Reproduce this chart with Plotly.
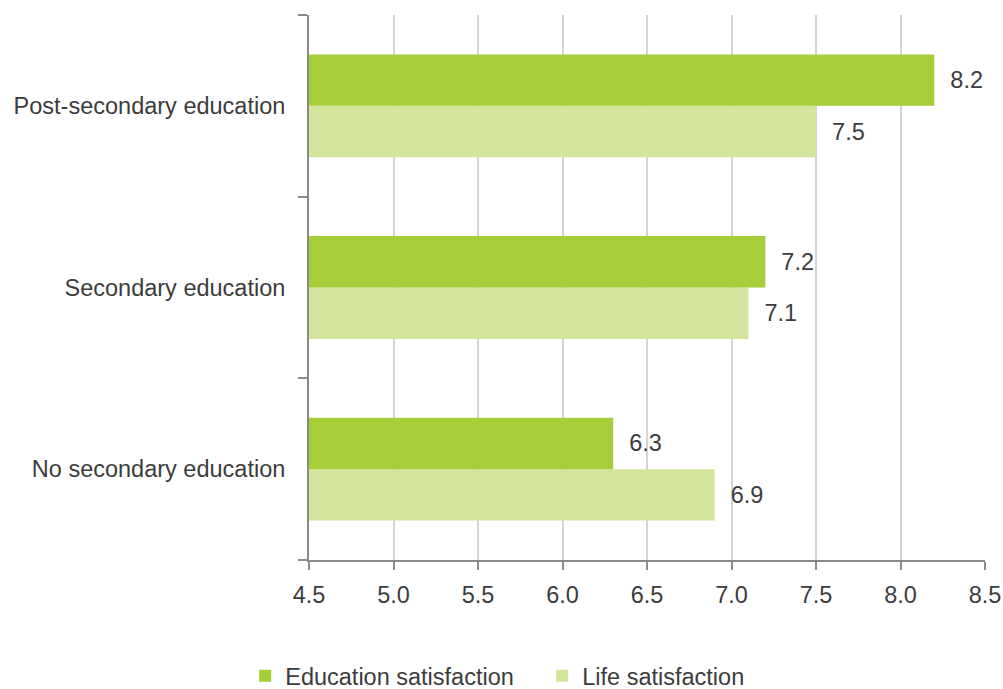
import plotly.graph_objects as go

# Education levels (bottom to top on the chart)
categories = ["No secondary education", "Secondary education", "Post-secondary education"]
education_satisfaction = [6.3, 7.2, 8.2]
life_satisfaction = [6.9, 7.1, 7.5]
x_ticks = [4.5, 5.0, 5.5, 6.0, 6.5, 7.0, 7.5, 8.0, 8.5]

DARK_GREEN = "#a6ce39"
LIGHT_GREEN = "#d3e49d"
TEXT = "#3c3c3c"
FONT = "Liberation Sans, Arial, sans-serif"
SIZE = 23.5

fig = go.Figure()

# Life satisfaction first so it sits below education satisfaction in each group
fig.add_trace(go.Bar(
    y=categories, x=life_satisfaction, orientation="h",
    name="Life satisfaction", marker=dict(color=LIGHT_GREEN, line=dict(width=0)),
    texttemplate="\u00a0\u00a0%{x:.1f}", textposition="outside", cliponaxis=False,
    textfont=dict(size=SIZE, color=TEXT, family=FONT),
))
fig.add_trace(go.Bar(
    y=categories, x=education_satisfaction, orientation="h",
    name="Education satisfaction", marker=dict(color=DARK_GREEN, line=dict(width=0)),
    texttemplate="\u00a0\u00a0%{x:.1f}", textposition="outside", cliponaxis=False,
    textfont=dict(size=SIZE, color=TEXT, family=FONT),
))

fig.update_layout(
    width=1003, height=689,
    margin=dict(l=309, r=18, t=15, b=129, autoexpand=False),
    paper_bgcolor="white", plot_bgcolor="white",
    barmode="group", bargap=0.434, bargroupgap=0,
    font=dict(family=FONT, size=SIZE, color=TEXT),
    showlegend=True,
    legend=dict(
        orientation="h", traceorder="reversed",
        x=0.345, xanchor="center",
        y=-0.213, yanchor="middle",
        font=dict(size=SIZE, color=TEXT, family=FONT),
        itemwidth=30, entrywidth=252, entrywidthmode="pixels",
        tracegroupgap=0,
    ),
)

fig.update_xaxes(
    range=[4.5, 8.5], autorange=False, tickvals=x_ticks,
    ticktext=[f"{v:.1f}" for v in x_ticks],
    showgrid=True, gridcolor="#d4d4d4", gridwidth=2,
    showline=True, linecolor="#8a8a8a", linewidth=2,
    ticks="outside", ticklen=8, tickwidth=2, tickcolor="#8a8a8a",
    zeroline=False, tickfont=dict(size=SIZE, color=TEXT),
    ticklabelstandoff=5, automargin=False,
)
fig.update_yaxes(
    type="category", categoryorder="array", categoryarray=categories,
    showgrid=False, showline=True, linecolor="#8a8a8a", linewidth=2,
    ticks="outside", tickson="boundaries", ticklen=9, tickwidth=2, tickcolor="#8a8a8a",
    tickfont=dict(size=SIZE, color=TEXT), ticklabelstandoff=17, automargin=False,
)

fig.write_html("out.html")
